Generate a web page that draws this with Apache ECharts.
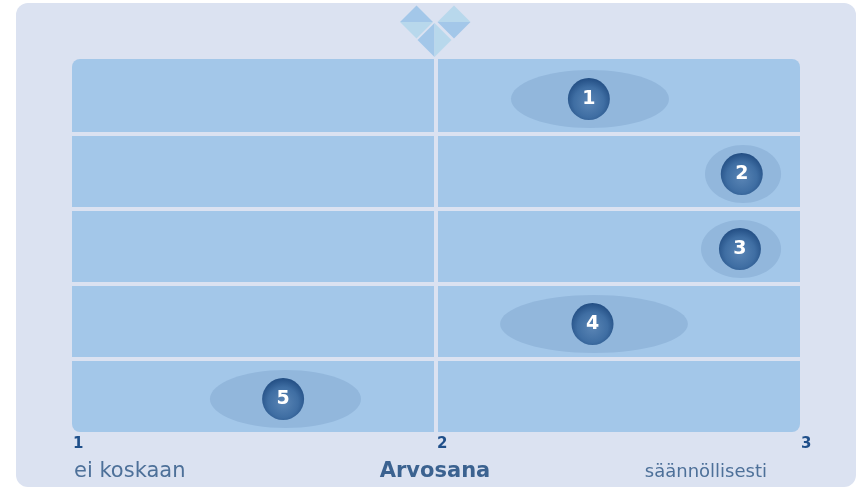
<!DOCTYPE html>
<html>
<head>
<meta charset="utf-8">
<script src="https://cdn.jsdelivr.net/npm/echarts@6/dist/echarts.min.js"></script>
<style>
  html, body { margin: 0; padding: 0; background: #fff; }
  #chart { width: 859px; height: 488px; }
</style>
</head>
<body>
<div id="chart"></div>
<script>
const rows = ['1', '2', '3', '4', '5'];
const means = [2.42, 2.84, 2.835, 2.43, 1.58];
const lows = [2.206, 2.739, 2.728, 2.176, 1.379];
const highs = [2.64, 2.948, 2.948, 2.692, 1.794];
const xTicks = [1, 2, 3];
const scaleStart = 1;
const scaleEnd = 3;
const scaleMiddle = 2;

const panelColor = '#dbe2f1';
const bandColor = '#a3c7e9';
const paleColor = '#b8d8ec';

const chart = echarts.init(document.getElementById('chart'), null, { renderer: 'canvas' });

// the little logo on top, each diamond is split in a dark and a light half
const flatDiamond = (cx, cy, r, top, bottom) => [
  { type: 'polygon', z: -5, shape: { points: [[cx - r, cy], [cx, cy - r], [cx + r, cy]] }, style: { fill: top } },
  { type: 'polygon', z: -5, shape: { points: [[cx - r, cy], [cx, cy + r], [cx + r, cy]] }, style: { fill: bottom } },
];
const tallDiamond = (cx, cy, r, left, right) => [
  { type: 'polygon', z: -5, shape: { points: [[cx, cy - r], [cx - r, cy], [cx, cy + r]] }, style: { fill: left } },
  { type: 'polygon', z: -5, shape: { points: [[cx, cy - r], [cx + r, cy], [cx, cy + r]] }, style: { fill: right } },
];

const caption = (x, text, textAlign, fontWeight, fontSize, fill) => ({
  type: 'text',
  x, y: 472,
  style: { text, textAlign, textVerticalAlign: 'middle', fontSize, fontWeight, fontFamily: 'DejaVu Sans', fill },
});

chart.setOption({
  animation: false,
  graphic: [
    {
      type: 'rect', z: -10,
      shape: { x: 16, y: 3, width: 840, height: 484, r: 12 },
      style: { fill: panelColor },
    },
    ...flatDiamond(416.5, 22, 16.5, bandColor, paleColor),
    ...flatDiamond(454, 22, 16.5, paleColor, bandColor),
    ...tallDiamond(434.5, 40, 17, bandColor, paleColor),
    caption(74, 'ei koskaan', 'left', 'normal', 21, '#4d7099'),
    caption(435, 'Arvosana', 'center', 'bold', 21, '#3b6290'),
    caption(767, 'säännöllisesti', 'right', 'normal', 18, '#4d7099'),
  ],
  grid: { left: 72, right: 59, top: 59, bottom: 54 },
  xAxis: {
    type: 'value',
    min: scaleStart,
    max: scaleEnd,
    interval: 1,
    axisLine: { show: false },
    axisTick: { show: false },
    splitLine: { show: false },
    axisLabel: {
      show: true,
      margin: 3,
      align: 'left',
      padding: [0, 0, 0, 1],
      color: '#1f4f8a',
      fontFamily: 'DejaVu Sans',
      fontWeight: 'bold',
      fontSize: 15,
      customValues: xTicks,
    },
  },
  yAxis: {
    type: 'category',
    inverse: true,
    data: rows,
    axisLine: { show: false },
    axisTick: { show: false },
    axisLabel: { show: false },
    splitLine: { show: false },
  },
  series: [
    {
      type: 'custom',
      silent: true,
      z: 1,
      data: rows.map((r, i) => [scaleStart, scaleEnd, i]),
      encode: { x: [0, 1], y: 2 },
      renderItem: (params, api) => {
        const i = api.value(2);
        const a = api.coord([api.value(0), i]);
        const b = api.coord([api.value(1), i]);
        const h = api.size([0, 1])[1] - 4;
        // first row reaches 2px higher than the others
        const extra = i === 0 ? 2 : 0;
        let r = 0;
        if (i === 0) r = [8, 8, 0, 0];
        if (i === rows.length - 1) r = [0, 0, 8, 8];
        return {
          type: 'rect',
          shape: { x: a[0], y: a[1] - h / 2 - extra, width: b[0] - a[0], height: h + extra, r },
          style: { fill: bandColor },
        };
      },
    },
    {
      type: 'custom',
      silent: true,
      z: 2,
      data: rows.map((r, i) => [lows[i], highs[i], i]),
      encode: { x: [0, 1], y: 2 },
      renderItem: (params, api) => {
        const a = api.coord([api.value(0), api.value(2)]);
        const b = api.coord([api.value(1), api.value(2)]);
        return {
          type: 'ellipse',
          shape: { cx: (a[0] + b[0]) / 2, cy: a[1] + 2.5, rx: (b[0] - a[0]) / 2, ry: 29 },
          style: { fill: '#92b7dc' },
        };
      },
    },
    {
      type: 'scatter',
      silent: true,
      z: 3,
      symbol: 'circle',
      symbolSize: 42,
      symbolOffset: [0, 2.5],
      itemStyle: {
        opacity: 1,
        color: {
          type: 'radial', x: 0.5, y: 0.58, r: 0.6,
          colorStops: [
            { offset: 0, color: '#5a85b5' },
            { offset: 0.6, color: '#3f6ea3' },
            { offset: 1, color: '#1f4a80' },
          ],
        },
      },
      label: {
        show: true,
        position: 'inside',
        offset: [0, 0],
        formatter: p => rows[p.dataIndex],
        color: '#fff',
        fontFamily: 'DejaVu Sans',
        fontWeight: 'bold',
        fontSize: 19,
      },
      markLine: {
        silent: true,
        symbol: 'none',
        label: { show: false },
        lineStyle: { color: panelColor, width: 4, type: 'solid', opacity: 1 },
        data: [{ xAxis: scaleMiddle }],
      },
      data: means.map((m, i) => [m, i]),
    },
  ],
});
</script>
</body>
</html>
